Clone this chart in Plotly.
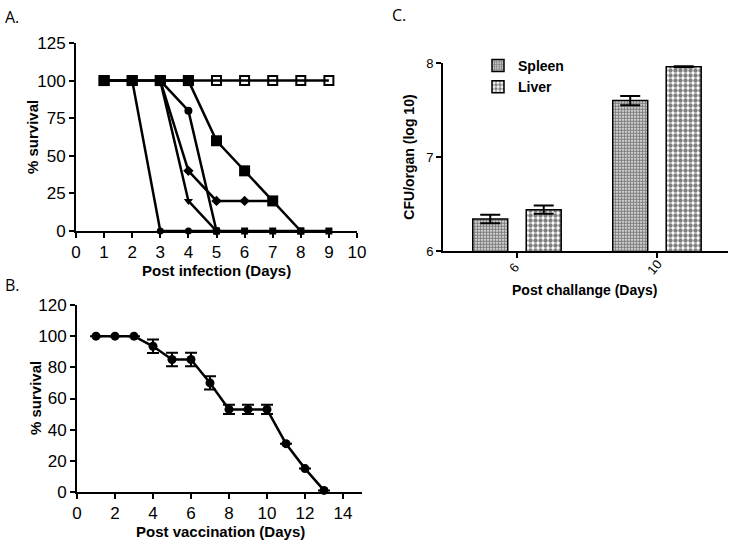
import plotly.graph_objects as go

# ---------- Panel A data ----------
a_days_ctrl = [1, 2, 3, 4, 5, 6, 7, 8, 9]
a_ctrl = [100, 100, 100, 100, 100, 100, 100, 100, 100]
a_days_sq = [1, 2, 3, 4, 5, 6, 7, 8]
a_sq = [100, 100, 100, 100, 60, 40, 20, 0]
a_days_early = [1, 2, 3, 4, 5]
a_early = [100, 100, 0, 0, 0]
a_days_circ = [3, 4, 5]
a_circ = [100, 80, 0]
a_days_dia = [3, 4, 5, 6, 7]
a_dia = [100, 40, 20, 20, 20]
a_days_tri = [3, 4, 5, 6, 7, 8, 9]
a_tri = [100, 20, 0, 0, 0, 0, 0]

# ---------- Panel B data ----------
b_days = [1, 2, 3, 4, 5, 6, 7, 8, 9, 10, 11, 12, 13]
b_surv = [100, 100, 100, 93.5, 85, 85, 70, 53, 53, 53, 31, 15, 1]
b_err = [0, 0, 0, 4.3, 4.3, 4.3, 4.3, 3, 3, 3, 0, 0, 0]

# ---------- Panel C data ----------
c_days = [6, 10]
c_day_labels = ["6", "10"]
c_spleen = [6.34, 7.60]
c_spleen_err = [0.045, 0.05]
c_liver = [6.44, 7.96]
c_liver_err = [0.045, 0.005]

FONT = "Liberation Sans, Arial, sans-serif"
W, H = 734, 541

fig = go.Figure()

LW = 2.5
def line_trace(x, y, symbol, size, xa="x", ya="y", lw=LW, mline=0):
    return go.Scatter(x=x, y=y, mode="lines+markers", xaxis=xa, yaxis=ya,
                      line=dict(color="black", width=lw),
                      marker=dict(symbol=symbol, size=size, color="black", opacity=1,
                                  line=dict(color="black", width=mline)),
                      cliponaxis=False, showlegend=False)

# Panel A
fig.add_trace(line_trace(a_days_ctrl, a_ctrl, "square-open", 9, mline=2))
fig.add_trace(line_trace(a_days_early, a_early, "circle", 7))
fig.add_trace(line_trace(a_days_circ, a_circ, "circle", 8))
fig.add_trace(line_trace(a_days_dia, a_dia, "diamond", 8))
tri_symbols = ["triangle-down", "triangle-down"] + ["square"] * (len(a_days_tri) - 2)
tri_sizes = [8, 8] + [7] * (len(a_days_tri) - 2)
fig.add_trace(go.Scatter(x=a_days_tri, y=a_tri, mode="lines+markers",
                         line=dict(color="black", width=LW),
                         marker=dict(symbol=tri_symbols, size=tri_sizes, color="black",
                                     opacity=1, line=dict(color="black", width=0)),
                         cliponaxis=False, showlegend=False))
sq_sizes = [11] * (len(a_days_sq) - 1) + [7]
fig.add_trace(go.Scatter(x=a_days_sq, y=a_sq, mode="lines+markers",
                         line=dict(color="black", width=LW),
                         marker=dict(symbol="square", size=sq_sizes, color="black",
                                     opacity=1, line=dict(color="black", width=0)),
                         cliponaxis=False, showlegend=False))

# Panel B
fig.add_trace(go.Scatter(x=b_days, y=b_surv, mode="lines+markers", xaxis="x2", yaxis="y2",
                         line=dict(color="black", width=LW),
                         marker=dict(symbol="circle", size=9, color="black"),
                         error_y=dict(type="data", array=b_err, color="black",
                                      thickness=2, width=6),
                         cliponaxis=False, showlegend=False))

# Panel C
fig.add_trace(go.Bar(x=c_days, y=c_spleen, name="<b>Spleen</b>", xaxis="x3", yaxis="y3",
                     marker=dict(color="white", line=dict(color="black", width=1.5),
                                 pattern=dict(shape=".", fgcolor="black", bgcolor="white",
                                              size=3, solidity=0.7)),
                     error_y=dict(type="data", array=c_spleen_err, color="black",
                                  thickness=2, width=10)))
fig.add_trace(go.Bar(x=c_days, y=c_liver, name="<b>Liver</b>", xaxis="x3", yaxis="y3",
                     marker=dict(color="white", line=dict(color="black", width=1.5),
                                 pattern=dict(shape=".", fgcolor="black", bgcolor="white",
                                              size=5, solidity=0.6)),
                     error_y=dict(type="data", array=c_liver_err, color="black",
                                  thickness=2, width=10)))

def px_x(p):
    return p / W

def px_y(p):
    return 1 - p / H

axis_common = dict(showline=True, linecolor="black", linewidth=2, ticks="outside",
                   ticklen=5, tickwidth=2, tickcolor="black", showgrid=False,
                   zeroline=False, mirror=False, automargin=False)

def label(text, x, y, size, angle=0, family=FONT, xanchor="center", yanchor="middle"):
    return dict(text=text, x=px_x(x), y=px_y(y), xref="paper", yref="paper",
                xanchor=xanchor, yanchor=yanchor, showarrow=False, textangle=angle,
                font=dict(size=size, family=family, color="black"))

c_tick_annots = [
    dict(text=t, x=d, xref="x3", y=px_y(267), yref="paper", xshift=-3,
         xanchor="center", yanchor="middle", showarrow=False, textangle=-50,
         font=dict(size=13, family=FONT, color="black"))
    for d, t in zip(c_days, c_day_labels)
]

fig.update_layout(
    width=W, height=H, margin=dict(l=0, r=0, t=0, b=0, autoexpand=False),
    paper_bgcolor="white", plot_bgcolor="white",
    font=dict(family=FONT, color="black"),
    barmode="group", bargap=0.236, bargroupgap=0.346,
    xaxis=dict(**axis_common, domain=[px_x(76), px_x(357)], range=[0, 10], dtick=1,
               tickfont=dict(size=17, family=FONT), anchor="y"),
    yaxis=dict(**axis_common, domain=[px_y(231), px_y(43)], range=[0, 125], dtick=25,
               tickfont=dict(size=17, family=FONT), anchor="x"),
    xaxis2=dict(**axis_common, domain=[px_x(77), px_x(362)], range=[0, 15], dtick=2,
                tickfont=dict(size=17, family=FONT), anchor="y2"),
    yaxis2=dict(**axis_common, domain=[px_y(492), px_y(305)], range=[0, 120], dtick=20,
                tickfont=dict(size=17, family=FONT), anchor="x2"),
    xaxis3=dict(**axis_common, domain=[px_x(443), px_x(728)], range=[3.886, 12.03],
                tickvals=c_days, showticklabels=False, anchor="y3"),
    yaxis3=dict(**axis_common, domain=[px_y(251), px_y(63)], range=[6, 8], dtick=1,
                tickfont=dict(size=13, family=FONT), anchor="x3",
                title=dict(text="<b>CFU/organ (log 10)</b>", font=dict(size=14), standoff=8)),
    legend=dict(x=px_x(478), y=px_y(50), xanchor="left", yanchor="top",
                bgcolor="rgba(0,0,0,0)", font=dict(size=14, family=FONT),
                itemwidth=30, tracegroupgap=2),
    annotations=[
        label("<b>% survival</b>", 32, 137, 15, angle=-90),
        label("<b>Post infection (Days)</b>", 216, 270, 15),
        label("<b>% survival</b>", 35, 398, 15, angle=-90),
        label("<b>Post vaccination (Days)</b>", 220, 531, 15),
        label("<b>Post challange (Days)</b>", 585, 290, 14),
        label("A.", 3, 4, 16, family="Open Sans", xanchor="left", yanchor="top"),
        label("B.", 3, 272, 16, family="Open Sans", xanchor="left", yanchor="top"),
        label("C.", 390, 2, 16, family="Open Sans", xanchor="left", yanchor="top"),
    ] + c_tick_annots,
)

fig.write_html("out.html", config={"displayModeBar": False},
               post_script="document.body.style.margin='0';document.body.style.overflow='hidden';")
